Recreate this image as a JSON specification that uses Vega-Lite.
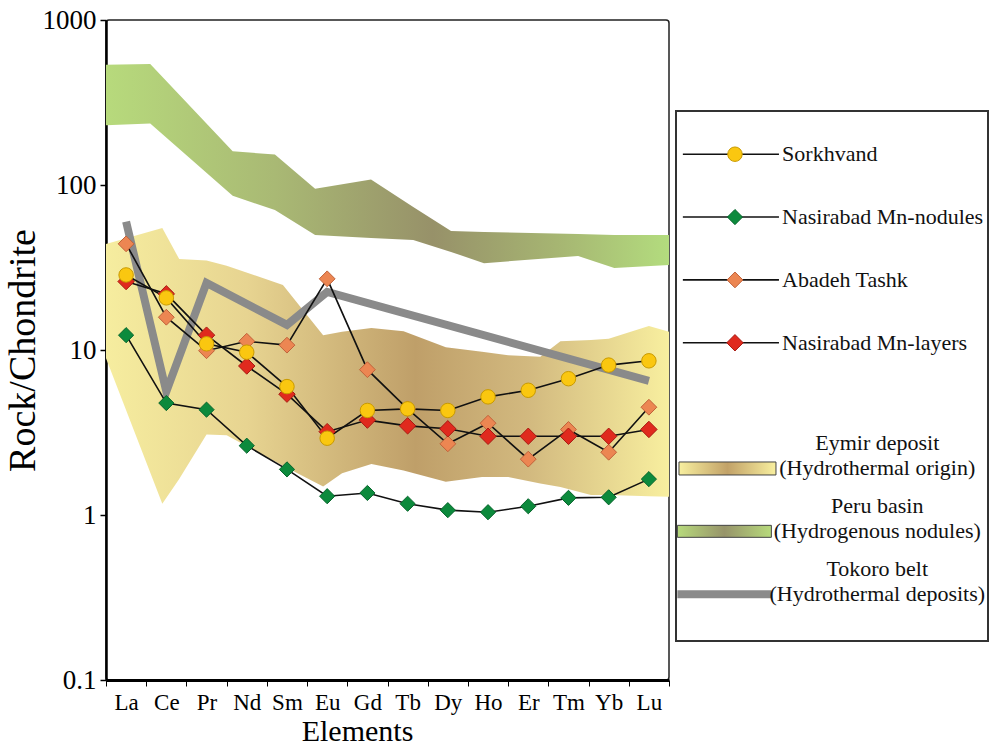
{
  "$schema": "https://vega.github.io/schema/vega-lite/v6.json",
  "background": "white",
  "padding": {"left": 3, "top": 5, "right": 0, "bottom": 0},
  "spacing": 4,
  "config": {
    "font": "Liberation Serif",
    "axis": {"labelFont": "Liberation Serif", "titleFont": "Liberation Serif", "labelColor": "#000", "titleColor": "#000", "domainColor": "#000", "tickColor": "#000", "grid": false, "titleFontWeight": "normal"}
  },
  "datasets": {
    "series": [
      {"element": "La", "series": "Nasirabad Mn-nodules", "value": 12.3},
      {"element": "Ce", "series": "Nasirabad Mn-nodules", "value": 4.77},
      {"element": "Pr", "series": "Nasirabad Mn-nodules", "value": 4.35},
      {"element": "Nd", "series": "Nasirabad Mn-nodules", "value": 2.63},
      {"element": "Sm", "series": "Nasirabad Mn-nodules", "value": 1.89},
      {"element": "Eu", "series": "Nasirabad Mn-nodules", "value": 1.3},
      {"element": "Gd", "series": "Nasirabad Mn-nodules", "value": 1.36},
      {"element": "Tb", "series": "Nasirabad Mn-nodules", "value": 1.17},
      {"element": "Dy", "series": "Nasirabad Mn-nodules", "value": 1.07},
      {"element": "Ho", "series": "Nasirabad Mn-nodules", "value": 1.04},
      {"element": "Er", "series": "Nasirabad Mn-nodules", "value": 1.13},
      {"element": "Tm", "series": "Nasirabad Mn-nodules", "value": 1.27},
      {"element": "Yb", "series": "Nasirabad Mn-nodules", "value": 1.28},
      {"element": "Lu", "series": "Nasirabad Mn-nodules", "value": 1.65},
      {"element": "La", "series": "Abadeh Tashk", "value": 44},
      {"element": "Ce", "series": "Abadeh Tashk", "value": 15.8},
      {"element": "Pr", "series": "Abadeh Tashk", "value": 9.9},
      {"element": "Nd", "series": "Abadeh Tashk", "value": 11.3},
      {"element": "Sm", "series": "Abadeh Tashk", "value": 10.7},
      {"element": "Eu", "series": "Abadeh Tashk", "value": 27},
      {"element": "Gd", "series": "Abadeh Tashk", "value": 7.6},
      {"element": "Tb", "series": "Abadeh Tashk", "value": 4.4},
      {"element": "Dy", "series": "Abadeh Tashk", "value": 2.7},
      {"element": "Ho", "series": "Abadeh Tashk", "value": 3.6},
      {"element": "Er", "series": "Abadeh Tashk", "value": 2.18},
      {"element": "Tm", "series": "Abadeh Tashk", "value": 3.3},
      {"element": "Yb", "series": "Abadeh Tashk", "value": 2.4},
      {"element": "Lu", "series": "Abadeh Tashk", "value": 4.5},
      {"element": "La", "series": "Nasirabad Mn-layers", "value": 26},
      {"element": "Ce", "series": "Nasirabad Mn-layers", "value": 21.9},
      {"element": "Pr", "series": "Nasirabad Mn-layers", "value": 12.3},
      {"element": "Nd", "series": "Nasirabad Mn-layers", "value": 8.0},
      {"element": "Sm", "series": "Nasirabad Mn-layers", "value": 5.4},
      {"element": "Eu", "series": "Nasirabad Mn-layers", "value": 3.2},
      {"element": "Gd", "series": "Nasirabad Mn-layers", "value": 3.76},
      {"element": "Tb", "series": "Nasirabad Mn-layers", "value": 3.47},
      {"element": "Dy", "series": "Nasirabad Mn-layers", "value": 3.33},
      {"element": "Ho", "series": "Nasirabad Mn-layers", "value": 3.0},
      {"element": "Er", "series": "Nasirabad Mn-layers", "value": 3.0},
      {"element": "Tm", "series": "Nasirabad Mn-layers", "value": 3.0},
      {"element": "Yb", "series": "Nasirabad Mn-layers", "value": 3.0},
      {"element": "Lu", "series": "Nasirabad Mn-layers", "value": 3.3},
      {"element": "La", "series": "Sorkhvand", "value": 28.5},
      {"element": "Ce", "series": "Sorkhvand", "value": 20.7},
      {"element": "Pr", "series": "Sorkhvand", "value": 10.9},
      {"element": "Nd", "series": "Sorkhvand", "value": 9.7},
      {"element": "Sm", "series": "Sorkhvand", "value": 6.0},
      {"element": "Eu", "series": "Sorkhvand", "value": 2.92},
      {"element": "Gd", "series": "Sorkhvand", "value": 4.3},
      {"element": "Tb", "series": "Sorkhvand", "value": 4.4},
      {"element": "Dy", "series": "Sorkhvand", "value": 4.3},
      {"element": "Ho", "series": "Sorkhvand", "value": 5.2},
      {"element": "Er", "series": "Sorkhvand", "value": 5.7},
      {"element": "Tm", "series": "Sorkhvand", "value": 6.7},
      {"element": "Yb", "series": "Sorkhvand", "value": 8.1},
      {"element": "Lu", "series": "Sorkhvand", "value": 8.6}
    ],
    "tokoro": [
      {"element": "La", "value": 60},
      {"element": "Ce", "value": 5.6},
      {"element": "Pr", "value": 25.5},
      {"element": "Sm", "value": 14.2},
      {"element": "Eu", "value": 22.5},
      {"element": "Lu", "value": 6.5}
    ],
    "peru": [
      {"pos": 0.5, "hi": 535, "lo": 230},
      {"pos": 1.6, "hi": 542, "lo": 236},
      {"pos": 3.65, "hi": 160, "lo": 86},
      {"pos": 4.7, "hi": 153, "lo": 70.5},
      {"pos": 5.7, "hi": 95, "lo": 49.8},
      {"pos": 7.09, "hi": 108, "lo": 47.8},
      {"pos": 8.14, "hi": 73.6, "lo": 46.4},
      {"pos": 9.08, "hi": 52.6, "lo": 39.3},
      {"pos": 9.9, "hi": 51.9, "lo": 33.6},
      {"pos": 12.24, "hi": 50.5, "lo": 37.1},
      {"pos": 13.14, "hi": 49.8, "lo": 31.4},
      {"pos": 14.5, "hi": 49.8, "lo": 32.7}
    ],
    "eymir": [
      {"pos": 0.5, "hi": 43.9, "lo": 8.9},
      {"pos": 1.9, "hi": 54.8, "lo": 1.17},
      {"pos": 2.32, "hi": 35.6, "lo": 1.65},
      {"pos": 3.0, "hi": 34.9, "lo": 3.08},
      {"pos": 3.5, "hi": 32.4, "lo": 3.04},
      {"pos": 4.9, "hi": 24.8, "lo": 1.99},
      {"pos": 5.9, "hi": 12.3, "lo": 1.49},
      {"pos": 6.37, "hi": 12.9, "lo": 1.79},
      {"pos": 7.1, "hi": 13.6, "lo": 2.04},
      {"pos": 7.9, "hi": 13.0, "lo": 1.86},
      {"pos": 8.95, "hi": 10.4, "lo": 1.59},
      {"pos": 9.85, "hi": 9.75, "lo": 1.7},
      {"pos": 10.5, "hi": 9.3, "lo": 1.7},
      {"pos": 11.3, "hi": 9.1, "lo": 1.55},
      {"pos": 11.8, "hi": 11.3, "lo": 1.48},
      {"pos": 12.56, "hi": 11.5, "lo": 1.32},
      {"pos": 13.0, "hi": 11.7, "lo": 1.32},
      {"pos": 14.0, "hi": 14.0, "lo": 1.3},
      {"pos": 14.5, "hi": 12.9, "lo": 1.29}
    ],
    "legend": [
      {"entry": "Sorkhvand", "kind": "series", "series": "Sorkhvand"},
      {"entry": "Nasirabad Mn-nodules", "kind": "series", "series": "Nasirabad Mn-nodules"},
      {"entry": "Abadeh Tashk", "kind": "series", "series": "Abadeh Tashk"},
      {"entry": "Nasirabad Mn-layers", "kind": "series", "series": "Nasirabad Mn-layers"},
      {"entry": "Eymir deposit", "sub": "(Hydrothermal origin)", "kind": "Eymir"},
      {"entry": "Peru basin", "sub": "(Hydrogenous nodules)", "kind": "Peru"},
      {"entry": "Tokoro belt", "sub": "(Hydrothermal deposits)", "kind": "Tokoro"}
    ]
  },
  "hconcat": [
    {
      "width": 563,
      "height": 660,
      "view": {"stroke": "#222", "strokeWidth": 1.5, "cornerRadius": 3},
      "layer": [
        {
          "layer": [
            {
              "data": {"name": "peru"},
              "mark": {"type": "area", "opacity": 1, "fill": {"gradient": "linear", "x1": 0, "y1": 0, "x2": 1, "y2": 0, "stops": [{"offset": 0, "color": "#b7da7c"}, {"offset": 0.3, "color": "#a9b974"}, {"offset": 0.58, "color": "#979169"}, {"offset": 0.8, "color": "#a6b572"}, {"offset": 1, "color": "#b3dc7e"}]}},
              "encoding": {
                "x": {"field": "pos", "type": "quantitative", "scale": {"domain": [0.5, 14.5], "nice": false, "zero": false}, "axis": null},
                "y": {"field": "hi", "type": "quantitative", "scale": {"type": "log", "domain": [0.1, 1000], "nice": false}, "title": "Rock/Chondrite"},
                "y2": {"field": "lo"}
              }
            },
            {
              "data": {"name": "eymir"},
              "mark": {"type": "area", "opacity": 1, "fill": {"gradient": "linear", "x1": 0, "y1": 0, "x2": 1, "y2": 0, "stops": [{"offset": 0, "color": "#f6ed9f"}, {"offset": 0.25, "color": "#e7d491"}, {"offset": 0.55, "color": "#bf9f69"}, {"offset": 0.75, "color": "#d2b97f"}, {"offset": 1, "color": "#f8ef9f"}]}},
              "encoding": {
                "x": {"field": "pos", "type": "quantitative", "scale": {"domain": [0.5, 14.5], "nice": false, "zero": false}, "axis": null},
                "y": {"field": "hi", "type": "quantitative", "scale": {"type": "log", "domain": [0.1, 1000], "nice": false}, "title": "Rock/Chondrite"},
                "y2": {"field": "lo"}
              }
            }
          ]
        },
        {
          "encoding": {
            "x": {"field": "element", "type": "nominal", "bandPosition": 0.5, "title": "Elements",
              "scale": {"type": "band", "domain": ["La", "Ce", "Pr", "Nd", "Sm", "Eu", "Gd", "Tb", "Dy", "Ho", "Er", "Tm", "Yb", "Lu"], "paddingInner": 0, "paddingOuter": 0},
              "axis": {"tickBand": "extent", "labelAngle": 0, "labelFontSize": 23, "labelPadding": 5, "titleFontSize": 30, "titlePadding": 2, "titleX": 251, "domainWidth": 3, "tickSize": 6, "tickWidth": 1}},
            "y": {"field": "value", "type": "quantitative", "scale": {"type": "log", "domain": [0.1, 1000], "nice": false}, "title": "Rock/Chondrite",
              "axis": {"values": [0.1, 1, 10, 100, 1000], "labelExpr": "format(datum.value, '~g')", "labelFontSize": 27, "labelPadding": 4, "titleFontSize": 38, "titlePadding": 0, "domainWidth": 2.5, "tickSize": 6, "tickWidth": 1.5}}
          },
          "layer": [
            {
              "data": {"name": "tokoro"},
              "mark": {"type": "line", "color": "#8a8a8a", "strokeWidth": 8, "strokeJoin": "miter"},
              "encoding": {"order": {"value": null}}
            },
            {
              "data": {"name": "series"},
              "mark": {"type": "line", "color": "#111", "strokeWidth": 1.6},
              "encoding": {"detail": {"field": "series"}, "order": {"value": null}}
            },
            {
              "data": {"name": "series"},
              "mark": {"type": "point", "filled": true, "opacity": 1, "strokeWidth": 1},
              "encoding": {
                "shape": {"field": "series", "scale": {"domain": ["Sorkhvand", "Nasirabad Mn-nodules", "Abadeh Tashk", "Nasirabad Mn-layers"], "range": ["circle", "diamond", "diamond", "diamond"]}, "legend": null},
                "fill": {"field": "series", "scale": {"domain": ["Sorkhvand", "Nasirabad Mn-nodules", "Abadeh Tashk", "Nasirabad Mn-layers"], "range": ["#fac710", "#0c8a3c", "#ec8652", "#e02a1e"]}, "legend": null},
                "stroke": {"field": "series", "scale": {"domain": ["Sorkhvand", "Nasirabad Mn-nodules", "Abadeh Tashk", "Nasirabad Mn-layers"], "range": ["#c99a00", "#07652c", "#c0623a", "#a81a12"]}, "legend": null},
                "size": {"field": "series", "scale": {"domain": ["Sorkhvand", "Nasirabad Mn-nodules", "Abadeh Tashk", "Nasirabad Mn-layers"], "range": [210, 270, 270, 270]}, "legend": null}
              }
            }
          ]
        }
      ],
      "resolve": {"scale": {"x": "independent"}}
    },
    {
      "spacing": 10,
      "vconcat": [
        {
          "width": 312,
          "height": 80,
          "view": {"stroke": null},
          "data": {"name": "legend"},
          "transform": [{"filter": "false"}],
          "mark": {"type": "point"},
          "encoding": {
            "x": {"field": "entry", "type": "nominal", "axis": null},
            "y": {"field": "entry", "type": "nominal", "axis": null}
          }
        },
        {
          "width": 312,
          "height": 530,
          "view": {"stroke": "#333", "strokeWidth": 2},
          "data": {"name": "legend"},
          "encoding": {
            "y": {"field": "entry", "type": "nominal", "scale": {"type": "point", "domain": ["Sorkhvand", "Nasirabad Mn-nodules", "Abadeh Tashk", "Nasirabad Mn-layers", "gap", "Eymir deposit", "Peru basin", "Tokoro belt"], "padding": 0.716, "align": 0.48}, "axis": null}
          },
          "layer": [
            {
              "transform": [{"filter": "datum.kind === 'series'"}],
              "mark": {"type": "rule", "color": "#111", "strokeWidth": 1.6},
              "encoding": {
                "x": {"datum": 0.022, "type": "quantitative", "scale": {"domain": [0, 1], "nice": false, "zero": false}, "axis": null},
                "x2": {"datum": 0.33}
              }
            },
            {
              "transform": [{"filter": "datum.kind === 'series'"}],
              "mark": {"type": "point", "filled": true, "opacity": 1, "strokeWidth": 1},
              "encoding": {
                "x": {"datum": 0.189, "type": "quantitative", "scale": {"domain": [0, 1], "nice": false, "zero": false}, "axis": null},
                "shape": {"field": "series", "scale": {"domain": ["Sorkhvand", "Nasirabad Mn-nodules", "Abadeh Tashk", "Nasirabad Mn-layers"], "range": ["circle", "diamond", "diamond", "diamond"]}, "legend": null},
                "fill": {"field": "series", "scale": {"domain": ["Sorkhvand", "Nasirabad Mn-nodules", "Abadeh Tashk", "Nasirabad Mn-layers"], "range": ["#fac710", "#0c8a3c", "#ec8652", "#e02a1e"]}, "legend": null},
                "stroke": {"field": "series", "scale": {"domain": ["Sorkhvand", "Nasirabad Mn-nodules", "Abadeh Tashk", "Nasirabad Mn-layers"], "range": ["#c99a00", "#07652c", "#c0623a", "#a81a12"]}, "legend": null},
                "size": {"field": "series", "scale": {"domain": ["Sorkhvand", "Nasirabad Mn-nodules", "Abadeh Tashk", "Nasirabad Mn-layers"], "range": [210, 270, 270, 270]}, "legend": null}
              }
            },
            {
              "transform": [{"filter": "datum.kind === 'series'"}],
              "mark": {"type": "text", "align": "left", "baseline": "middle", "fontSize": 22, "font": "Liberation Serif", "color": "#111"},
              "encoding": {
                "x": {"datum": 0.34, "type": "quantitative", "scale": {"domain": [0, 1], "nice": false, "zero": false}, "axis": null},
                "text": {"field": "entry"}
              }
            },
            {
              "transform": [{"filter": "datum.kind === 'Eymir'"}],
              "mark": {"type": "tick", "orient": "horizontal", "size": 97, "thickness": 13, "opacity": 1, "stroke": "#444", "strokeWidth": 1, "fill": {"gradient": "linear", "x1": 0, "y1": 0, "x2": 1, "y2": 0, "stops": [{"offset": 0, "color": "#f8ef9f"}, {"offset": 0.5, "color": "#c2a268"}, {"offset": 1, "color": "#f8ef9f"}]}},
              "encoding": {"x": {"datum": 0.165, "type": "quantitative", "scale": {"domain": [0, 1], "nice": false, "zero": false}, "axis": null}}
            },
            {
              "transform": [{"filter": "datum.kind === 'Peru'"}],
              "mark": {"type": "tick", "orient": "horizontal", "size": 94, "thickness": 12, "opacity": 1, "stroke": "#444", "strokeWidth": 1, "fill": {"gradient": "linear", "x1": 0, "y1": 0, "x2": 1, "y2": 0, "stops": [{"offset": 0, "color": "#b7da7c"}, {"offset": 0.5, "color": "#97946a"}, {"offset": 1, "color": "#b7da7c"}]}},
              "encoding": {"x": {"datum": 0.155, "type": "quantitative", "scale": {"domain": [0, 1], "nice": false, "zero": false}, "axis": null}}
            },
            {
              "transform": [{"filter": "datum.kind === 'Tokoro'"}],
              "mark": {"type": "tick", "orient": "horizontal", "size": 94, "thickness": 8, "opacity": 1, "color": "#8a8a8a"},
              "encoding": {"x": {"datum": 0.155, "type": "quantitative", "scale": {"domain": [0, 1], "nice": false, "zero": false}, "axis": null}}
            },
            {
              "transform": [{"filter": "datum.kind !== 'series'"}],
              "mark": {"type": "text", "align": "center", "baseline": "middle", "fontSize": 22, "font": "Liberation Serif", "color": "#111", "dy": -25},
              "encoding": {
                "x": {"datum": 0.645, "type": "quantitative", "scale": {"domain": [0, 1], "nice": false, "zero": false}, "axis": null},
                "text": {"field": "entry"}
              }
            },
            {
              "transform": [{"filter": "datum.kind !== 'series'"}],
              "mark": {"type": "text", "align": "center", "baseline": "middle", "fontSize": 22, "font": "Liberation Serif", "color": "#111", "dy": 0},
              "encoding": {
                "x": {"datum": 0.645, "type": "quantitative", "scale": {"domain": [0, 1], "nice": false, "zero": false}, "axis": null},
                "text": {"field": "sub"}
              }
            }
          ]
        }
      ]
    }
  ]
}
